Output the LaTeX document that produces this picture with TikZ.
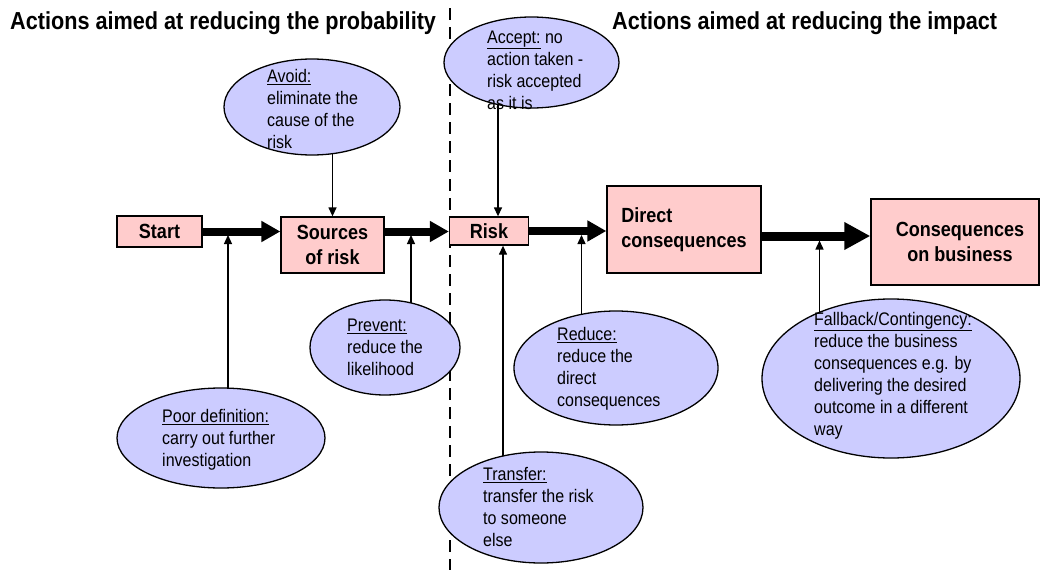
\documentclass[tikz,border=0pt]{standalone}
\usepackage{fontspec}
\setmainfont{Liberation Sans}[FakeStretch=0.88]
\usetikzlibrary{arrows.meta,shapes.geometric,backgrounds,calc}
\definecolor{boxpink}{HTML}{FFCCCC}
\definecolor{ovalblue}{HTML}{CCCCFF}
\begin{document}
\begin{tikzpicture}[x=1pt,y=-1pt,
  stage/.style={draw=black,line width=1.3pt,fill=boxpink,inner sep=0pt,
    font=\bfseries\fontsize{20.5}{25}\selectfont,align=center},
  action/.style={ellipse,draw=black,line width=1.3pt,fill=ovalblue,inner sep=0pt},
  note/.style={anchor=west,inner sep=0pt,align=left,
    font=\fontsize{18.2}{22}\selectfont},
  heading/.style={anchor=base west,inner sep=0pt,
    font=\bfseries\fontsize{24.6}{28}\selectfont},
  flow/.style={line width=8pt,-{Triangle[length=19pt,width=20pt]}},
  bigflow/.style={line width=9pt,-{Triangle[length=26pt,width=26pt]}},
  effect/.style={line width=1.3pt,-{Triangle[length=9pt,width=8pt]}},
  divider/.style={line width=2pt,dash pattern=on 12pt off 7pt}
]
\useasboundingbox (0,0) rectangle (1045,570);

% headings
\node[heading] (lefttitle) at (10,29) {Actions aimed at reducing the probability};
\node[heading] (righttitle) at (612,29) {Actions aimed at reducing the impact};

% main chain
\node[stage,minimum width=85pt,minimum height=31pt] (start) at (159.5,231.5) {Start};
\node[stage,minimum width=103pt,minimum height=56pt] (sources) at (332.5,245) {Sources\\of risk};
\node[stage,minimum width=79pt,minimum height=28pt] (risk) at (489,231) {Risk};
\node[stage,minimum width=154pt,minimum height=87pt,align=left] (direct) at (684,229.5) {Direct\\consequences};
\node[stage,minimum width=168pt,minimum height=86pt] (cons) at (955,242) {\hspace*{10pt}Consequences\\\hspace*{10pt}on business};

\draw[flow] (start.east) -- (start.east -| sources.west);
\draw[flow] (sources.east |- start.east) -- (risk.west |- start.east);
\draw[flow] (risk.east) -- (risk.east -| direct.west);
\coordinate (dc) at ([yshift=-6.5pt]direct.east);
\draw[bigflow] (dc) -- (dc -| cons.west);

% response ovals
\node[action,minimum width=176pt,minimum height=96pt] (avoid) at (312,107) {};
\node[action,minimum width=175pt,minimum height=91pt] (accept) at (531.5,62.5) {};
\node[action,minimum width=150pt,minimum height=95pt] (prevent) at (385,347.5) {};
\node[action,minimum width=208pt,minimum height=100pt] (poor) at (221,438) {};
\node[action,minimum width=204pt,minimum height=114pt] (reduce) at (616,368) {};
\node[action,minimum width=204pt,minimum height=111pt] (transfer) at (541,507.5) {};
\node[action,minimum width=258pt,minimum height=159pt] (fallback) at (891,378.5) {};

\node[note] (avoid-text) at (267,111)
  {\strut\underline{Avoid:}\\\strut eliminate the\\\strut cause of the\\\strut risk};
\node[note] (accept-text) at (487,72)
  {\strut\underline{Accept:} no\\\strut action taken -\\\strut risk accepted\\\strut as it is};
\node[note] (prevent-text) at (347,349)
  {\strut\underline{Prevent:}\\\strut reduce the\\\strut likelihood};
\node[note] (poor-text) at (162,440)
  {\strut\underline{Poor definition:}\\\strut carry out further\\\strut investigation};
\node[note] (reduce-text) at (557,369.5)
  {\strut\underline{Reduce:}\\\strut reduce the\\\strut direct\\\strut consequences};
\node[note] (transfer-text) at (483,509.5)
  {\strut\underline{Transfer:}\\\strut transfer the risk\\\strut to someone\\\strut else};
\node[note] (fallback-text) at (814,376)
  {\strut\underline{Fallback/Contingency:}\\\strut reduce the business\\\strut consequences e.g. by\\\strut delivering the desired\\\strut outcome in a different\\\strut way};

% tips where the responses meet the chain
\coordinate (t-poor) at (228,235);
\coordinate (t-prevent) at (411,235);
\coordinate (t-reduce) at (581.5,235);
\coordinate (t-fallback) at (819.5,240.5);
\coordinate (r-top) at ($(risk.north)+(9,0)$);
\coordinate (r-bot) at ($(risk.south)+(14,0)$);

\begin{scope}[on background layer]
  \draw[divider] (450,8) -- (450,570);
  \draw[effect] (sources.north |- avoid.center) -- (sources.north);
  \draw[effect] (r-top |- accept.center) -- (r-top);
  \draw[effect] (r-bot |- transfer.center) -- (r-bot);
  \draw[effect] (t-poor |- poor.center) -- (t-poor);
  \draw[effect] (t-prevent |- prevent.center) -- (t-prevent);
  \draw[effect] (t-reduce |- reduce.center) -- (t-reduce);
  \draw[effect] (t-fallback |- fallback.center) -- (t-fallback);
\end{scope}
\end{tikzpicture}
\end{document}
